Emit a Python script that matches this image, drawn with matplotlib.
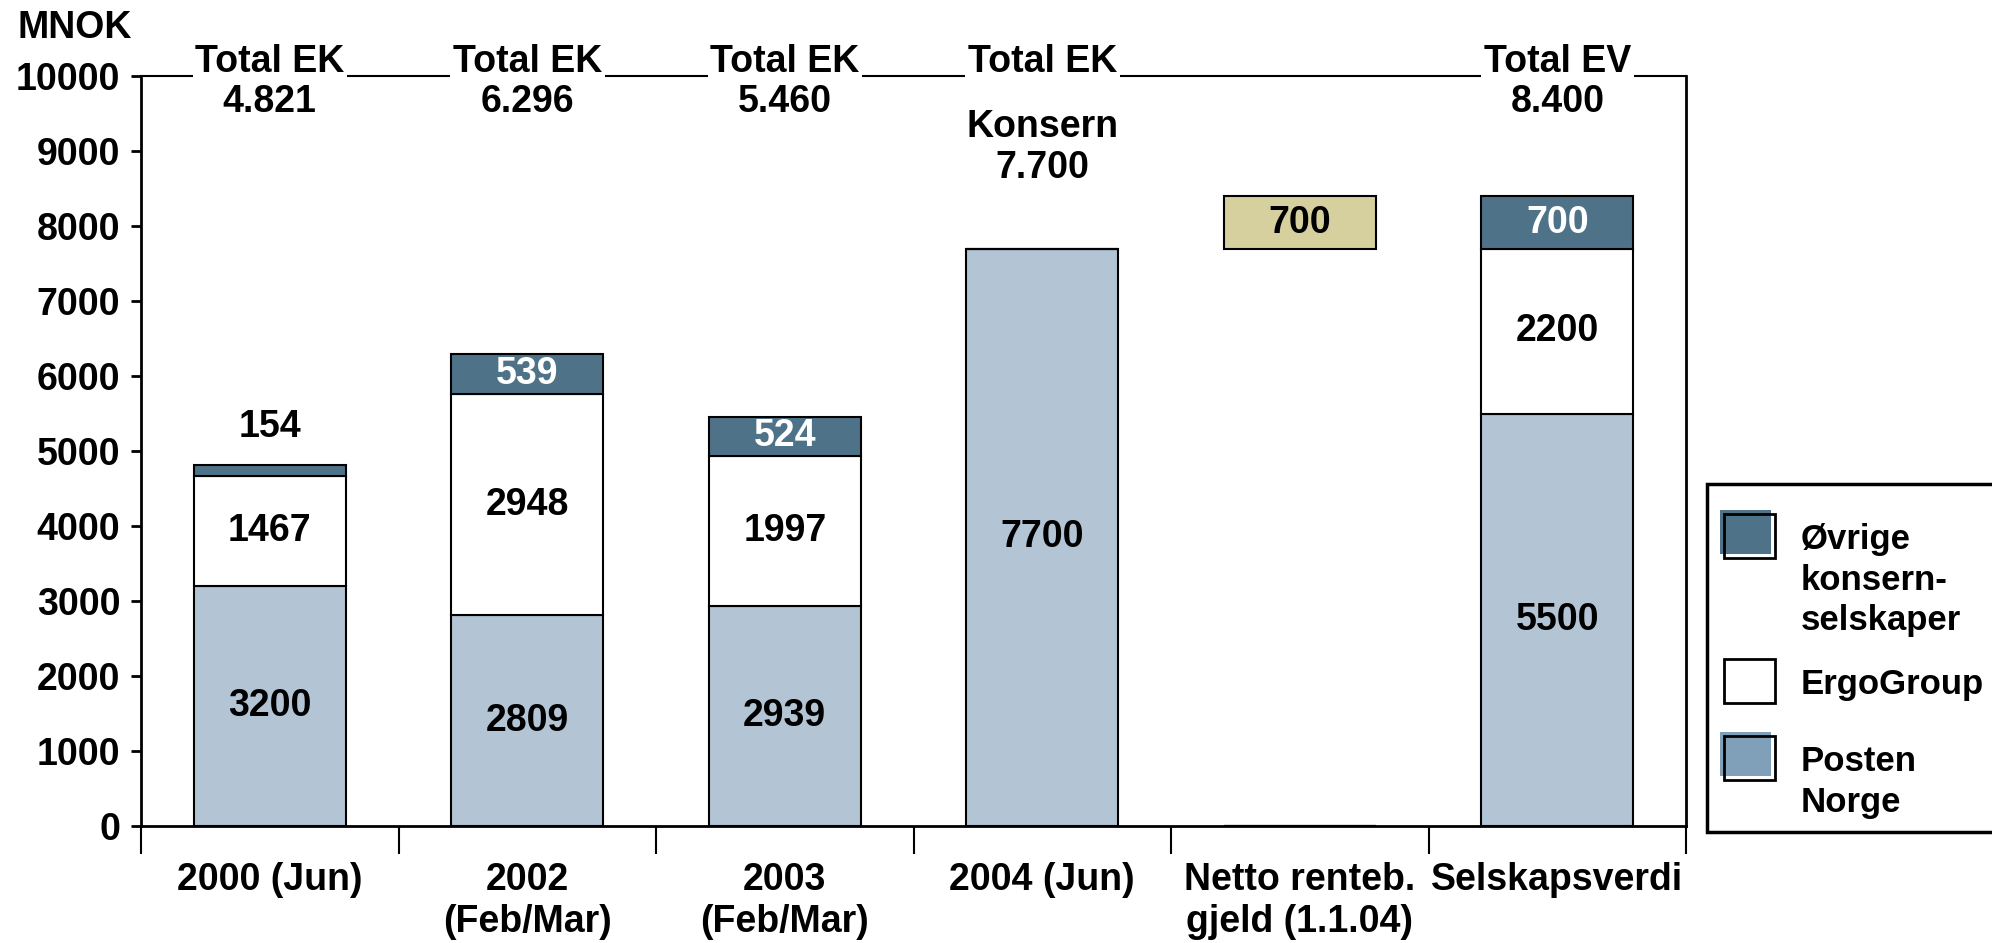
import numpy as np
import matplotlib
matplotlib.use("Agg")
import matplotlib.pyplot as plt
from matplotlib.patches import Rectangle

plt.rcParams['font.family'] = ['Liberation Sans', 'DejaVu Sans']
plt.rcParams['font.weight'] = 'bold'

# data (MNOK)
categories = ['2000 (Jun)', '2002\n(Feb/Mar)', '2003\n(Feb/Mar)', '2004 (Jun)',
              'Netto renteb.\ngjeld (1.1.04)', 'Selskapsverdi']
posten = [3200, 2809, 2939, 7700, 0, 5500]
ergo = [1467, 2948, 1997, 0, 0, 2200]
ovrige = [154, 539, 524, 0, 0, 700]
netto_gjeld = [0, 0, 0, 0, 700, 0]
netto_bottom = 7700
head_labels = ['Total EK', 'Total EK', 'Total EK', 'Total EK', '', 'Total EV']
total_labels = ['4.821', '6.296', '5.460', 'Konsern\n7.700', '', '8.400']
series_names = ['Øvrige\nkonsern-\nselskaper', 'ErgoGroup', 'Posten\nNorge']

c_posten = '#B3C4D4'
c_posten_leg = '#7FA0B8'
c_ovrige = '#4E7389'
c_netto = '#D6CF9E'
fs = 27

fig = plt.figure(figsize=(19.92, 9.43), dpi=100)
ax = fig.add_axes([0.0708, 0.124, 0.7756, 0.795])

x = np.arange(len(categories))
w = 0.59
posten = np.array(posten)
ergo = np.array(ergo)
ovrige = np.array(ovrige)
netto_gjeld = np.array(netto_gjeld)

kw = dict(width=w, edgecolor='black', linewidth=1.5, zorder=3)
ax.bar(x, posten, color=c_posten, **kw)
ax.bar(x, ergo, bottom=posten, color='white', **kw)
ax.bar(x, ovrige, bottom=posten + ergo, color=c_ovrige, **kw)
m = netto_gjeld > 0
ax.bar(x[m], netto_gjeld[m], bottom=netto_bottom, color=c_netto, **kw)

# value labels
for i in x:
    if posten[i] > 0:
        ax.text(i, posten[i] / 2, str(posten[i]), ha='center', va='center', fontsize=fs, zorder=5)
    if ergo[i] > 0:
        ax.text(i, posten[i] + ergo[i] / 2, str(ergo[i]), ha='center', va='center', fontsize=fs, zorder=5)
    if ovrige[i] > 0:
        top = posten[i] + ergo[i]
        if ovrige[i] < 300:
            ax.text(i, top + ovrige[i] + 500, str(ovrige[i]), ha='center', va='center', fontsize=fs, zorder=5)
        else:
            ax.text(i, top + ovrige[i] / 2, str(ovrige[i]), ha='center', va='center',
                    fontsize=fs, color='white', zorder=5)
    if netto_gjeld[i] > 0:
        ax.text(i, netto_bottom + netto_gjeld[i] / 2, str(netto_gjeld[i]), ha='center', va='center',
                fontsize=fs, zorder=5)

# top line with totals
ax.axhline(10000, color='black', linewidth=1.5, zorder=2, clip_on=False)
for i in x:
    if head_labels[i]:
        ax.text(i, 9950, head_labels[i], ha='center', va='bottom', fontsize=fs, zorder=6,
                bbox=dict(facecolor='white', edgecolor='none', pad=2), clip_on=False)
    if total_labels[i]:
        yy = 9560 if '\n' in total_labels[i] else 9900
        ax.text(i, yy, total_labels[i], ha='center', va='top', fontsize=fs, zorder=6,
                linespacing=1.15, clip_on=False)

ax.set_xlim(-0.5, len(categories) - 0.5)
ax.set_ylim(0, 10000)
ax.set_yticks(np.arange(0, 10001, 1000))
ax.tick_params(axis='y', labelsize=fs, length=7, width=2, pad=8)
ax.set_xticks(x)
ax.set_xticklabels(categories, fontsize=fs, linespacing=1.2)
ax.tick_params(axis='x', which='major', length=0, pad=26)
ax.set_xticks(np.arange(-0.5, len(categories), 1), minor=True)
ax.tick_params(axis='x', which='minor', length=20, width=1.5, direction='out')
for s in ['left', 'right', 'bottom']:
    ax.spines[s].set_linewidth(2)
ax.spines['top'].set_visible(False)

fig.text(0.009, 0.97, 'MNOK', fontsize=fs, ha='left', va='center')

# legend box (drawn by hand, partly cut by the right edge)
fig.patches.append(Rectangle((0.857, 0.118), 0.2, 0.369, transform=fig.transFigure,
                             facecolor='white', edgecolor='black', linewidth=2.5, zorder=1))
leg_colors = [c_ovrige, 'white', c_posten_leg]
leg_y = [0.4316, 0.2778, 0.1962]
pw, ph = 0.0256, 0.0467
for name, col, yc in zip(series_names, leg_colors, leg_y):
    if col != 'white':
        fig.patches.append(Rectangle((0.8655 - 0.002, yc - ph / 2 + 0.004), pw, ph,
                                     transform=fig.transFigure, facecolor=col,
                                     edgecolor='none', zorder=2))
    fig.patches.append(Rectangle((0.8655, yc - ph / 2), pw, ph, transform=fig.transFigure,
                                 facecolor='none', edgecolor='black', linewidth=2, zorder=3))
    fig.text(0.904, yc + 0.014, name, fontsize=25, ha='left', va='top', linespacing=1.3)

fig.savefig('out.png', dpi=100)
